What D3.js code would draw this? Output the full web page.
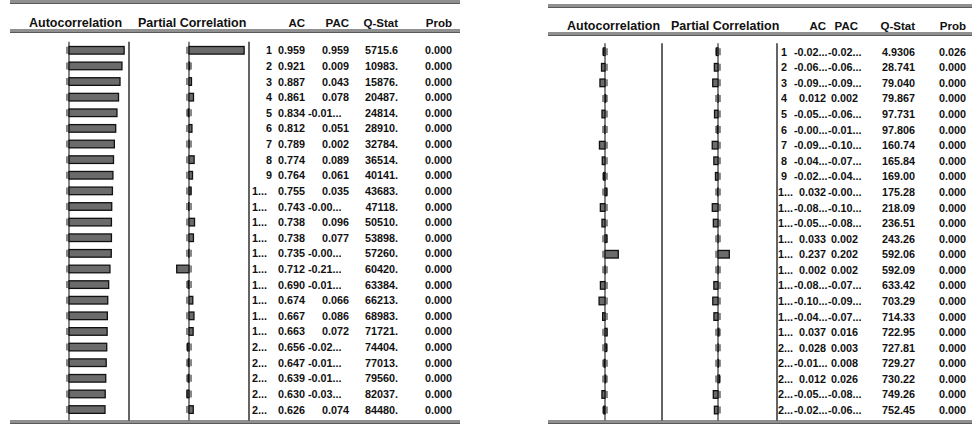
<!DOCTYPE html>
<html><head><meta charset="utf-8">
<script src="https://cdn.jsdelivr.net/npm/d3@7/dist/d3.min.js"></script>
<style>
html,body{margin:0;padding:0;background:#fff;}
svg text{font-family:"Liberation Sans",Arial,sans-serif;font-weight:bold;fill:#111;}
</style></head>
<body><svg id="c" width="972" height="424"></svg>
<script>
// ---------- DATA ----------
const lags = d3.range(1, 25);
const lagLabels = ["1","2","3","4","5","6","7","8","9","1...","1...","1...","1...","1...","1...","1...","1...","1...","1...","2...","2...","2...","2...","2..."];
const headers = ["Autocorrelation","Partial Correlation","AC","PAC","Q-Stat","Prob"];
const confBound = 0.035;

// Left correlogram
const leftAC = [0.959,0.921,0.887,0.861,0.834,0.812,0.789,0.774,0.764,0.755,0.743,0.738,0.738,0.735,0.712,0.690,0.674,0.667,0.663,0.656,0.647,0.639,0.630,0.626];
const leftPAC = [0.959,0.009,0.043,0.078,-0.013,0.051,0.002,0.089,0.061,0.035,-0.006,0.096,0.077,-0.004,-0.214,-0.014,0.066,0.086,0.072,-0.024,-0.012,-0.015,-0.034,0.074];
const leftACText = ["0.959","0.921","0.887","0.861","0.834","0.812","0.789","0.774","0.764","0.755","0.743","0.738","0.738","0.735","0.712","0.690","0.674","0.667","0.663","0.656","0.647","0.639","0.630","0.626"];
const leftPACText = ["0.959","0.009","0.043","0.078","-0.01...","0.051","0.002","0.089","0.061","0.035","-0.00...","0.096","0.077","-0.00...","-0.21...","-0.01...","0.066","0.086","0.072","-0.02...","-0.01...","-0.01...","-0.03...","0.074"];
const leftQ = ["5715.6","10983.","15876.","20487.","24814.","28910.","32784.","36514.","40141.","43683.","47118.","50510.","53898.","57260.","60420.","63384.","66213.","68983.","71721.","74404.","77013.","79560.","82037.","84480."];
const leftProb = ["0.000","0.000","0.000","0.000","0.000","0.000","0.000","0.000","0.000","0.000","0.000","0.000","0.000","0.000","0.000","0.000","0.000","0.000","0.000","0.000","0.000","0.000","0.000","0.000"];

// Right correlogram
const rightAC = [-0.028,-0.062,-0.090,0.012,-0.054,-0.003,-0.099,-0.049,-0.023,0.032,-0.083,-0.054,0.033,0.237,0.002,-0.082,-0.106,-0.042,0.037,0.028,-0.015,0.012,-0.055,-0.023];
const rightPAC = [-0.028,-0.065,-0.094,0.002,-0.062,-0.012,-0.103,-0.074,-0.045,-0.005,-0.102,-0.083,0.002,0.202,0.002,-0.074,-0.093,-0.073,0.016,0.003,0.008,0.026,-0.084,-0.064];
const rightACText = ["-0.02...","-0.06...","-0.09...","0.012","-0.05...","-0.00...","-0.09...","-0.04...","-0.02...","0.032","-0.08...","-0.05...","0.033","0.237","0.002","-0.08...","-0.10...","-0.04...","0.037","0.028","-0.01...","0.012","-0.05...","-0.02..."];
const rightPACText = ["-0.02...","-0.06...","-0.09...","0.002","-0.06...","-0.01...","-0.10...","-0.07...","-0.04...","-0.00...","-0.10...","-0.08...","0.002","0.202","0.002","-0.07...","-0.09...","-0.07...","0.016","0.003","0.008","0.026","-0.08...","-0.06..."];
const rightQ = ["4.9306","28.741","79.040","79.867","97.731","97.806","160.74","165.84","169.00","175.28","218.09","236.51","243.26","592.06","592.09","633.42","703.29","714.33","722.95","727.81","729.27","730.22","749.26","752.45"];
const rightProb = ["0.026","0.000","0.000","0.000","0.000","0.000","0.000","0.000","0.000","0.000","0.000","0.000","0.000","0.000","0.000","0.000","0.000","0.000","0.000","0.000","0.000","0.000","0.000","0.000"];

// ---------- LAYOUT ----------
// colL: left edge of each text column (lag, AC, PAC, Q, Prob); colR: right edge
const layouts = [
  {x0:10, x1:460, acZero:69, sep1:129, pacZero:189, sep2:249, half:57.5,
   topY:1, hdrLineY:30, hdrTextY:27, rowY0:50.3, rowH:15.62, bottomY:421,
   colL:[252,277,308,352,405], colR:[272,305,349,398,452],
   ac:leftAC, pac:leftPAC, acT:leftACText, pacT:leftPACText, q:leftQ, p:leftProb},
  {x0:548, x1:972, acZero:605, sep1:662, pacZero:718, sep2:777, half:56,
   topY:5, hdrLineY:33, hdrTextY:29.5, rowY0:51.7, rowH:15.58, bottomY:421,
   colL:[778,794,828,866,920], colR:[787,826,858,915,966],
   ac:rightAC, pac:rightPAC, acT:rightACText, pacT:rightPACText, q:rightQ, p:rightProb}
];

const svg = d3.select("#c");
const HFS = 12.5, CFS = 11.5, FS = 10.8;

layouts.forEach(L => {
  const g = svg.append("g");
  const y = d3.scaleLinear().domain([1, 24]).range([L.rowY0, L.rowY0 + 23 * L.rowH]);
  const xAC = d3.scaleLinear().domain([-1, 1]).range([L.acZero - L.half, L.acZero + L.half]);
  const xPAC = d3.scaleLinear().domain([-1, 1]).range([L.pacZero - L.half, L.pacZero + L.half]);

  const dbl = (yy) => {
    [yy, yy + 2.2].forEach(v => g.append("line").attr("x1", L.x0).attr("x2", L.x1)
      .attr("y1", v).attr("y2", v).attr("stroke", "#222").attr("stroke-width", 1.2));
  };
  dbl(L.topY); dbl(L.hdrLineY); dbl(L.bottomY);

  g.append("text").attr("x", L.x0 + 19).attr("y", L.hdrTextY).attr("font-size", HFS).text(headers[0]);
  g.append("text").attr("x", L.sep1 + 9).attr("y", L.hdrTextY).attr("font-size", HFS).text(headers[1]);
  headers.slice(2).forEach((h, i) => {
    g.append("text").attr("x", L.colR[i + 1]).attr("y", L.hdrTextY).attr("font-size", CFS)
      .attr("text-anchor", "end").text(h);
  });

  const yTop = L.rowY0 - 8.5, yBot = L.bottomY - 0.5;
  [L.sep1, L.sep2].forEach(sx => g.append("line").attr("x1", sx).attr("x2", sx)
    .attr("y1", yTop).attr("y2", yBot).attr("stroke", "#111").attr("stroke-width", 1.3));

  [[xAC, L.ac], [xPAC, L.pac]].forEach(([xs, vals]) => {
    [-confBound, confBound].forEach(b => {
      g.selectAll(null).data(lags).enter().append("line")
        .attr("x1", xs(b)).attr("x2", xs(b))
        .attr("y1", d => y(d) - 3.5).attr("y2", d => y(d) + 3.5)
        .attr("stroke", "#555").attr("stroke-width", 1.4);
    });
    g.append("line").attr("x1", xs(0)).attr("x2", xs(0)).attr("y1", yTop).attr("y2", yBot)
      .attr("stroke", "#333").attr("stroke-width", 1.2);
    g.selectAll(null).data(vals).enter().append("rect")
      .attr("x", d => xs(Math.min(0, d)))
      .attr("width", d => Math.abs(xs(d) - xs(0)))
      .attr("y", (d, i) => y(lags[i]) - 3.8)
      .attr("height", 7.6)
      .attr("fill", "#6b6b6b").attr("stroke", "#111").attr("stroke-width", 1.3);
  });

  const cols = [lagLabels, L.acT, L.pacT, L.q, L.p];
  cols.forEach((arr, ci) => {
    const right = L.colR[ci], left = L.colL[ci];
    g.selectAll(null).data(arr).enter().append("text")
      .attr("font-size", FS)
      .attr("x", d => d.includes("...") ? left : right)
      .attr("text-anchor", d => d.includes("...") ? "start" : "end")
      .attr("y", (d, i) => y(lags[i]) + 4.0)
      .text(d => d);
  });
});
</script></body></html>
